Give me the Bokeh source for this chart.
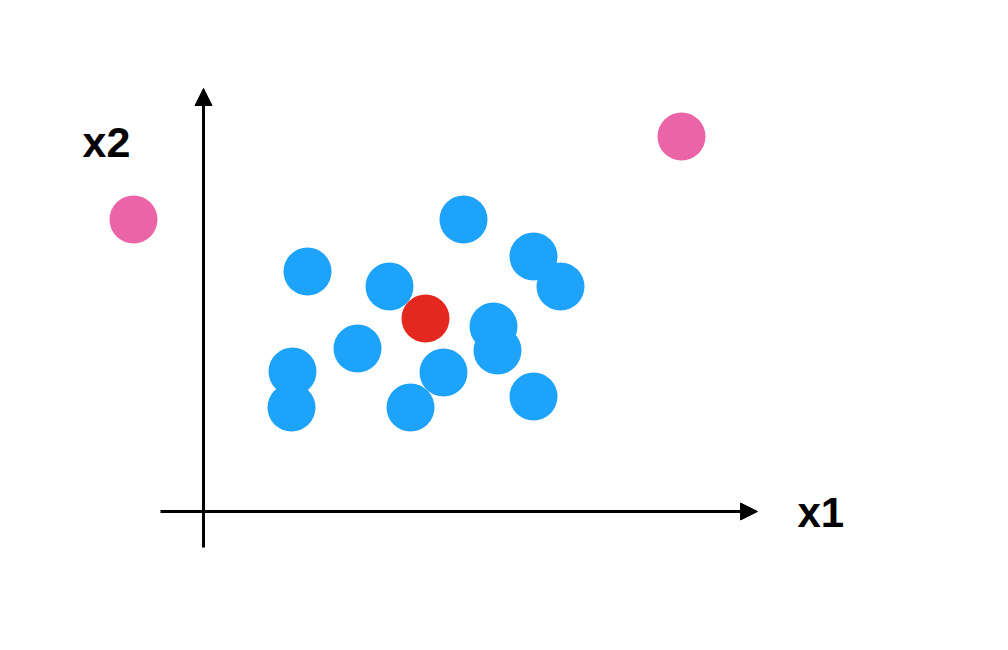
from bokeh.plotting import figure
from bokeh.models import Range1d, Arrow, NormalHead
from bokeh.core.properties import value
from bokeh.embed import file_html
from bokeh.resources import INLINE

# Data (arbitrary units, origin at the axes crossing)
blue_x1 = [10.4, 18.6, 26.0, 33.0, 35.7, 15.4, 8.9, 8.8, 20.7, 24.0, 29.0, 29.4, 33.0]
blue_x2 = [24.0, 22.5, 29.2, 25.5, 22.5, 16.3, 14.0, 10.4, 10.4, 13.9, 18.5, 16.1, 11.5]
red_x1 = [22.2]
red_x2 = [19.3]
pink_x1 = [-7.0, 47.8]
pink_x2 = [29.2, 37.5]

p = figure(width=992, height=634, output_backend="svg", toolbar_location=None,
           x_range=Range1d(-20.3, 78.9), y_range=Range1d(-12.3, 51.1),
           min_border=0, min_border_left=0, min_border_right=0,
           min_border_top=0, min_border_bottom=0)
p.axis.visible = False
p.grid.visible = False
p.outline_line_color = None
p.background_fill_color = "white"
p.border_fill_color = "white"

# Axes as arrows
p.add_layout(Arrow(end=NormalHead(size=17, fill_color="black", line_color="black", line_width=1),
                   x_start=-4.3, y_start=0, x_end=55.4, y_end=0,
                   line_width=3, line_color="black"))
p.add_layout(Arrow(end=NormalHead(size=17, fill_color="black", line_color="black", line_width=1),
                   x_start=0, y_start=-3.6, x_end=0, y_end=42.3,
                   line_width=3, line_color="black"))

p.scatter(blue_x1, blue_x2, size=48, fill_color="#1EA3FB", line_color=None)
p.scatter(red_x1, red_x2, size=48, fill_color="#E5281F", line_color=None)
p.scatter(pink_x1, pink_x2, size=48, fill_color="#EC64A8", line_color=None)

p.text(x=[-12.1], y=[37.0], text=["x2"], text_font=value("Liberation Sans"),
       text_font_style="bold", text_font_size="43px", text_color="black",
       text_align="left", text_baseline="alphabetic")
p.text(x=[59.4], y=[-0.1], text=["x1"], text_font=value("Liberation Sans"),
       text_font_style="bold", text_font_size="42px", text_color="black",
       text_align="left", text_baseline="alphabetic")

open("out.html", "w").write(file_html(p, INLINE))
